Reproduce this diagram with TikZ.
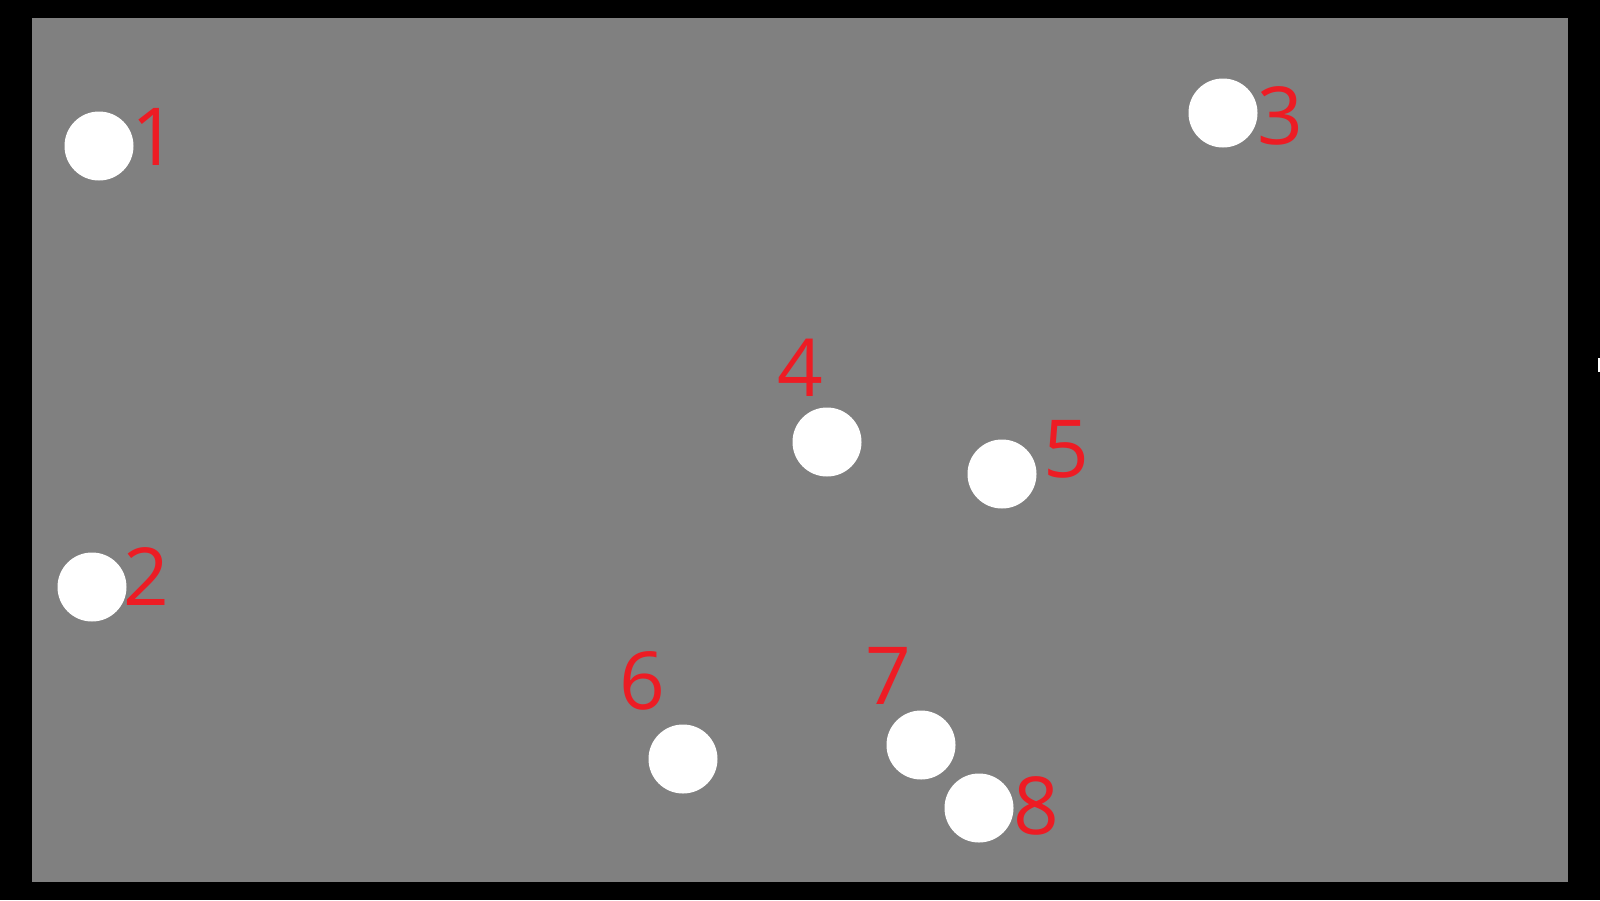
\documentclass[tikz,border=0pt]{standalone}
\usepackage{fontspec}
\setmainfont{Open Sans}
\definecolor{ground}{HTML}{808080}
\definecolor{tagred}{HTML}{ED1C24}
\tikzset{
    spot/.style={circle,fill=white,inner sep=0pt,minimum size=69pt},
    tag/.style={text=tagred,inner sep=0pt,font=\fontsize{80}{80}\selectfont}
}
\begin{document}
\begin{tikzpicture}[x=1pt,y=-1pt]
        \fill [black] (0,0) rectangle (1600,900);
        \fill [ground] (32,18) rectangle (1568,882);
        \fill [white] (1598,358) rectangle (1600,372);
        \node [spot] (s1) at (99,146) {};
        \node [spot] (s2) at (92,587) {};
        \node [spot] (s3) at (1223,113) {};
        \node [spot] (s4) at (827,442) {};
        \node [spot] (s5) at (1002,474) {};
        \node [spot] (s6) at (683,759) {};
        \node [spot] (s7) at (921,745) {};
        \node [spot] (s8) at (979,808) {};
        \node [tag] (t1) at (154,137) {1};
        \node [tag] (t2) at (146,577) {2};
        \node [tag] (t3) at (1280,116) {3};
        \node [tag] (t4) at (800,368) {4};
        \node [tag] (t5) at (1066,449) {5};
        \node [tag] (t6) at (642,681) {6};
        \node [tag] (t7) at (888,676) {7};
        \node [tag] (t8) at (1036,806) {8};
    \end{tikzpicture}
\end{document}
